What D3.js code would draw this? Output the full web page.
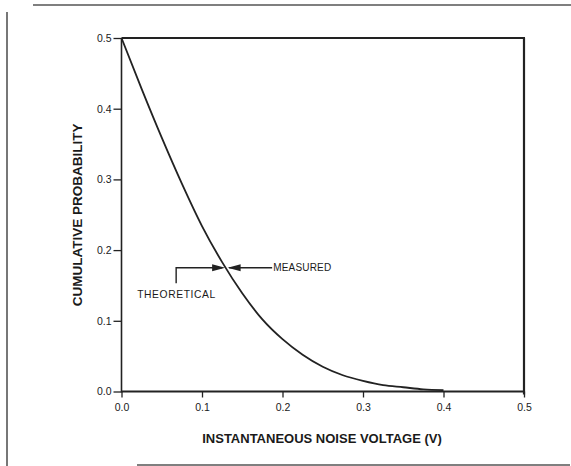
<!DOCTYPE html>
<html>
<head>
<meta charset="utf-8">
<script src="https://cdn.jsdelivr.net/npm/d3@7/dist/d3.min.js"></script>
<style>
  html, body { margin: 0; padding: 0; background: #ffffff; }
  svg { display: block; }
  text { font-family: "Liberation Sans", Arial, Helvetica, sans-serif; fill: #1a1a1a; }
</style>
</head>
<body>
<div id="chart"></div>
<script>
// Instantaneous noise voltage (V) and the probability of exceeding it
const voltage = [0, 0.025, 0.05, 0.075, 0.1, 0.125, 0.15, 0.175, 0.2, 0.225,
                 0.25, 0.275, 0.3, 0.325, 0.35, 0.375, 0.4];
const probability = [0.5, 0.428, 0.359, 0.294, 0.234, 0.183, 0.139, 0.102, 0.074, 0.052,
                     0.035, 0.023, 0.015, 0.009, 0.006, 0.003, 0.002];

const xTicks = [0, 0.1, 0.2, 0.3, 0.4, 0.5];
const yTicks = [0, 0.1, 0.2, 0.3, 0.4, 0.5];

// Point where the measured and theoretical curves are marked
const markerPoint = [0.13, 0.175];
const markerLabels = ["MEASURED", "THEORETICAL"];

const xTitle = "INSTANTANEOUS NOISE VOLTAGE (V)";
const yTitle = "CUMULATIVE PROBABILITY";

const W = 571, H = 466;
const svg = d3.select("#chart").append("svg").attr("width", W).attr("height", H);

const x = d3.scaleLinear().domain([0, 0.5]).range([121.5, 524]);
const y = d3.scaleLinear().domain([0, 0.5]).range([391.5, 38]);

const ink = "#222";

// Outer frame (top, left, bottom rules)
const frame = svg.append("g").attr("stroke", "#555").attr("stroke-width", 1.6).attr("fill", "none");
frame.append("line").attr("x1", 33).attr("y1", 5).attr("x2", 571).attr("y2", 5);
frame.append("line").attr("x1", 7).attr("y1", 12).attr("x2", 7).attr("y2", 466);
frame.append("line").attr("x1", 137).attr("y1", 465).attr("x2", 570).attr("y2", 465);

// Axes
const xAxis = d3.axisBottom(x).tickValues(xTicks).tickSize(6).tickPadding(4)
  .tickFormat(d3.format(".1f"));
const yAxis = d3.axisLeft(y).tickValues(yTicks).tickSize(8).tickPadding(2)
  .tickFormat(d3.format(".1f"));

const gx = svg.append("g").attr("transform", `translate(0,${y(0)})`).call(xAxis);
const gy = svg.append("g").attr("transform", `translate(${x(0)},0)`).call(yAxis);

[gx, gy].forEach(g => {
  g.select(".domain").remove();
  g.selectAll(".tick line").attr("stroke", ink).attr("stroke-width", 1.3);
  g.selectAll(".tick text").attr("fill", "#1a1a1a")
    .style("font-size", "10.5px").style("font-family", "\"Liberation Sans\", Arial, sans-serif");
});
gx.selectAll(".tick text").attr("dy", "0.9em");

// Plot box: left/bottom axis lines plus top and right borders
const box = svg.append("g").attr("fill", "none").attr("stroke", ink);
box.append("line").attr("x1", x(0)).attr("y1", y(0.5)).attr("x2", x(0)).attr("y2", y(0) + 1)
  .attr("stroke-width", 1.6);
box.append("line").attr("x1", x(0)).attr("y1", y(0)).attr("x2", x(0.5)).attr("y2", y(0))
  .attr("stroke-width", 1.8);
box.append("line").attr("x1", x(0)).attr("y1", y(0.5)).attr("x2", x(0.5) + 1).attr("y2", y(0.5))
  .attr("stroke-width", 2);
box.append("line").attr("x1", x(0.5)).attr("y1", y(0.5)).attr("x2", x(0.5)).attr("y2", y(0) + 3)
  .attr("stroke-width", 2.2);

// Probability curve
const line = d3.line()
  .x((d, i) => x(voltage[i]))
  .y(d => y(d))
  .curve(d3.curveMonotoneX);

svg.append("path")
  .datum(probability)
  .attr("d", line)
  .attr("fill", "none")
  .attr("stroke", ink)
  .attr("stroke-width", 1.8);

// Marker arrows at the crossing point
const px = x(markerPoint[0]), py = y(markerPoint[1]);
const ann = svg.append("g").attr("stroke", ink).attr("stroke-width", 1.4).attr("fill", "none");
// theoretical leader: vertical drop then horizontal to the arrow
ann.append("path").attr("d", `M${px - 50},${py + 15.5} V${py} H${px - 4}`);
// measured leader
ann.append("path").attr("d", `M${px + 3},${py} H${px + 46}`);
// arrowheads
svg.append("path").attr("fill", ink)
  .attr("d", `M${px - 1},${py} L${px - 14},${py - 3.5} L${px - 14},${py + 3.5} Z`);
svg.append("path").attr("fill", ink)
  .attr("d", `M${px + 1.5},${py} L${px + 14.5},${py - 3.5} L${px + 14.5},${py + 3.5} Z`);

svg.append("text")
  .attr("x", px + 47).attr("y", py + 3.7)
  .style("font-size", "10px").style("letter-spacing", "0.2px")
  .text(markerLabels[0]);
svg.append("text")
  .attr("x", px - 89).attr("y", py + 30.5)
  .style("font-size", "10.3px").style("letter-spacing", "0.6px")
  .text(markerLabels[1]);

// Axis titles
svg.append("text")
  .attr("x", 322).attr("y", 443)
  .attr("text-anchor", "middle")
  .style("font-size", "13px").style("font-weight", "bold")
  .text(xTitle);

svg.append("text")
  .attr("transform", `translate(82,${(y(0) + y(0.5)) / 2}) rotate(-90)`)
  .attr("text-anchor", "middle")
  .style("font-size", "13.5px").style("font-weight", "bold")
  .text(yTitle);
</script>
</body>
</html>
